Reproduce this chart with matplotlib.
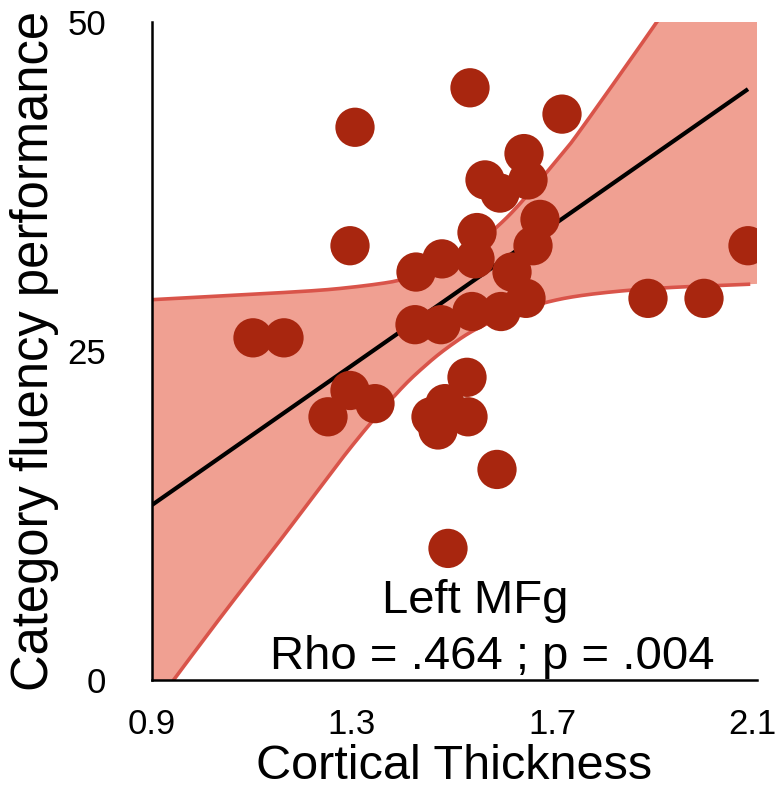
import numpy as np
import matplotlib
matplotlib.use("Agg")
import matplotlib.pyplot as plt

# Cortical thickness vs. category fluency score, one point per participant
thickness = [1.536, 1.306, 1.720, 1.644, 1.566, 1.596, 1.652, 1.676, 1.296, 1.550,
             1.662, 2.092, 1.480, 1.546, 1.428, 1.620, 1.648, 1.892, 2.004, 1.540,
             1.598, 1.426, 1.478, 1.102, 1.164, 1.530, 1.296, 1.346, 1.252, 1.486,
             1.458, 1.532, 1.472, 1.590, 1.492]
fluency = [45, 42, 43, 40, 38, 37, 38, 35, 33, 34,
           33, 33, 32, 32, 31, 31, 29, 29, 29, 28,
           28, 27, 27, 26, 26, 23, 22, 21, 20, 21,
           20, 20, 19, 16, 10]

# Fitted regression line
fit_x = [0.90, 2.092]
fit_y = [13.3, 44.9]

# Confidence band edges
band_upper_x = [0.90, 1.096, 1.229, 1.30, 1.362, 1.396, 1.45, 1.50, 1.55, 1.589,
                1.636, 1.716, 1.759, 1.906, 2.11]
band_upper_y = [28.9, 29.3, 29.6, 29.85, 30.15, 30.4, 31.0, 31.9, 33.2, 34.4,
                36.2, 39.8, 41.9, 49.8, 61.0]
band_lower_x = [0.90, 0.946, 1.05, 1.162, 1.296, 1.39, 1.45, 1.50, 1.55, 1.62,
                1.689, 1.756, 1.85, 1.95, 2.049, 2.11]
band_lower_y = [-2.2, 0.15, 5.4, 10.9, 17.6, 21.8, 24.0, 25.5, 26.7, 27.9,
                28.7, 29.2, 29.6, 29.85, 30.0, 30.1]

x_ticks = [0.9, 1.3, 1.7, 2.1]
x_tick_labels = ["0.9", "1.3", "1.7", "2.1"]
y_ticks = [0, 25, 50]
y_tick_labels = ["0", "25", "50"]


def smooth_curve(xs, ys, steps=20):
    """Catmull-Rom curve through the given points, for a smooth band edge."""
    p = np.column_stack([xs, ys]).astype(float)
    p = np.vstack([2 * p[0] - p[1], p, 2 * p[-1] - p[-2]])
    out = []
    t = np.linspace(0, 1, steps, endpoint=False)[:, None]
    for i in range(1, len(p) - 2):
        p0, p1, p2, p3 = p[i - 1], p[i], p[i + 1], p[i + 2]
        seg = 0.5 * ((2 * p1) + (-p0 + p2) * t
                     + (2 * p0 - 5 * p1 + 4 * p2 - p3) * t ** 2
                     + (-p0 + 3 * p1 - 3 * p2 + p3) * t ** 3)
        out.append(seg)
    out.append(p[-2][None, :])
    out = np.vstack(out)
    return out[:, 0], out[:, 1]


plt.rcParams["font.family"] = ["Liberation Sans", "DejaVu Sans"]

fig = plt.figure(figsize=(7.79, 7.91), dpi=100)
ax = fig.add_axes([152 / 779, 1 - 680 / 791, 605 / 779, 658 / 791])

ux, uy = smooth_curve(band_upper_x, band_upper_y)
lx, ly = smooth_curve(band_lower_x, band_lower_y)
ax.fill(np.r_[ux, lx[::-1]], np.r_[uy, ly[::-1]], color="#F0A092", lw=0, zorder=1)
ax.plot(ux[ux <= 2.095], uy[ux <= 2.095], color="#D9544A", lw=2.6, zorder=2)
ax.plot(lx[lx <= 2.095], ly[lx <= 2.095], color="#D9544A", lw=2.6, zorder=2)

ax.plot(fit_x, fit_y, color="black", lw=3.0, zorder=3, solid_capstyle="butt")

ax.scatter(thickness, fluency, s=800, color="#A8260F", edgecolors="none", zorder=4)

ax.set_xlim(0.9, 2.11)
ax.set_ylim(0, 50)

ax.set_xticks(x_ticks)
ax.set_xticklabels(x_tick_labels)
ax.set_yticks(y_ticks)
ax.set_yticklabels(y_tick_labels)
ax.tick_params(axis="both", length=0, labelsize=25)
ax.tick_params(axis="x", pad=20)
ax.tick_params(axis="y", pad=33)

for side in ("top", "right"):
    ax.spines[side].set_visible(False)
for side in ("left", "bottom"):
    ax.spines[side].set_linewidth(1.8)
    ax.spines[side].set_color("black")

ax.set_xlabel("Cortical Thickness", fontsize=35, labelpad=2)
ax.set_ylabel("Category fluency performance", fontsize=36.5, labelpad=6)

ax.text(1.546, 6.0, "Left MFg", fontsize=34, ha="center", va="center", zorder=5)
ax.text(1.58, 1.75, "Rho = .464 ; p = .004", fontsize=34, ha="center", va="center", zorder=5)

fig.savefig("out.png", dpi=100)
